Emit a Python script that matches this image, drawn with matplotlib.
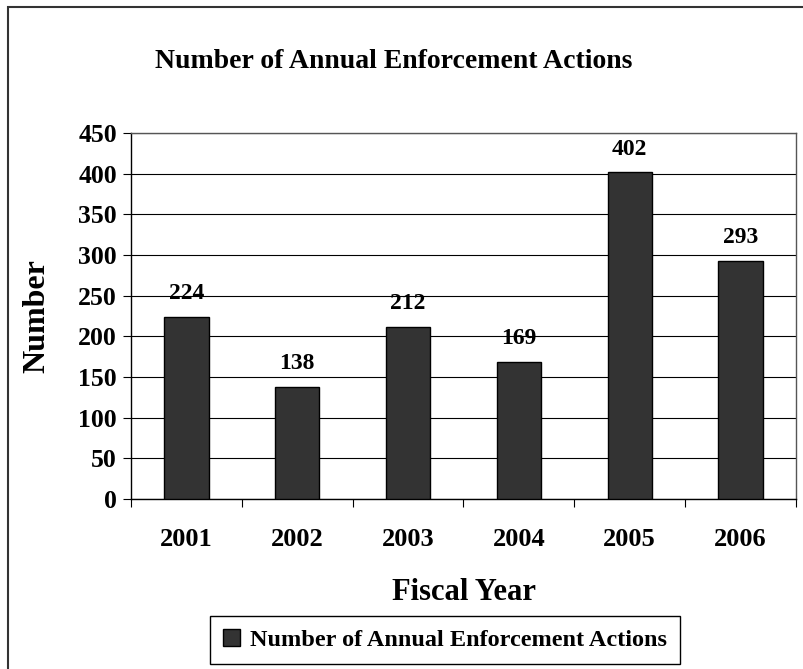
import matplotlib.pyplot as plt
import matplotlib.patches as mpatches
import numpy as np

years = ["2001", "2002", "2003", "2004", "2005", "2006"]
actions = [224, 138, 212, 169, 402, 293]
series_name = "Number of Annual Enforcement Actions"

plt.rcParams["font.family"] = ["Liberation Serif", "DejaVu Serif"]
plt.rcParams["font.weight"] = "bold"

fig = plt.figure(figsize=(8.04, 6.69), dpi=100)
ax = fig.add_axes([131 / 804, 1 - 499 / 669, 665 / 804, 366 / 669])

x = np.arange(len(years))
bars = ax.bar(x, actions, width=0.4, color="#333333", edgecolor="black",
              linewidth=1.0, zorder=3, label=series_name)

for xi, v in zip(x, actions):
    ax.annotate(str(v), (xi, v), xytext=(0, 9), textcoords="offset points",
                ha="center", va="bottom", fontsize=17, fontweight="bold")

ax.set_xlim(-0.5, len(years) - 0.5)
ax.set_ylim(0, 450)
ax.set_yticks(range(0, 451, 50))
ax.yaxis.grid(True, color="black", linewidth=0.8, zorder=0)
ax.tick_params(axis="y", length=6, width=0.8, labelsize=18.5, pad=4)

# category labels in the middle, tick marks between categories
ax.set_xticks(x)
ax.set_xticklabels(years, fontsize=19, fontweight="bold")
ax.tick_params(axis="x", length=0, pad=21)
ax.set_xticks(np.arange(-0.5, len(years)), minor=True)
ax.tick_params(axis="x", which="minor", length=6, width=0.8)

for side in ("top", "right"):
    ax.spines[side].set_color("#555555")
    ax.spines[side].set_linewidth(1.0)
for side in ("left", "bottom"):
    ax.spines[side].set_color("black")
    ax.spines[side].set_linewidth(1.0)

fig.text(0.49, 1 - 62 / 669, "Number of Annual Enforcement Actions",
         ha="center", va="center", fontsize=20, fontweight="bold")
fig.text(37 / 804, 1 - 316 / 669, "Number", rotation=90,
         ha="center", va="center", fontsize=23, fontweight="bold")
fig.text(464 / 804, 1 - 592 / 669, "Fiscal Year",
         ha="center", va="center", fontsize=22, fontweight="bold")

leg = fig.legend(handles=[bars], loc="center",
                 bbox_to_anchor=(445 / 804, 1 - 640 / 669),
                 fancybox=False, edgecolor="black", framealpha=1,
                 prop={"size": 17.5, "weight": "bold"},
                 handlelength=0.7, handleheight=0.7, handletextpad=0.4,
                 borderpad=0.55)
leg.get_frame().set_linewidth(1.0)

# outer chart border
fig.patches.append(mpatches.Rectangle((8 / 804, -0.05), 1.0, 1 - 7 / 669 + 0.05,
                                      transform=fig.transFigure, fill=False,
                                      edgecolor="#333333", linewidth=1.5))

fig.savefig("out.png", dpi=100)
